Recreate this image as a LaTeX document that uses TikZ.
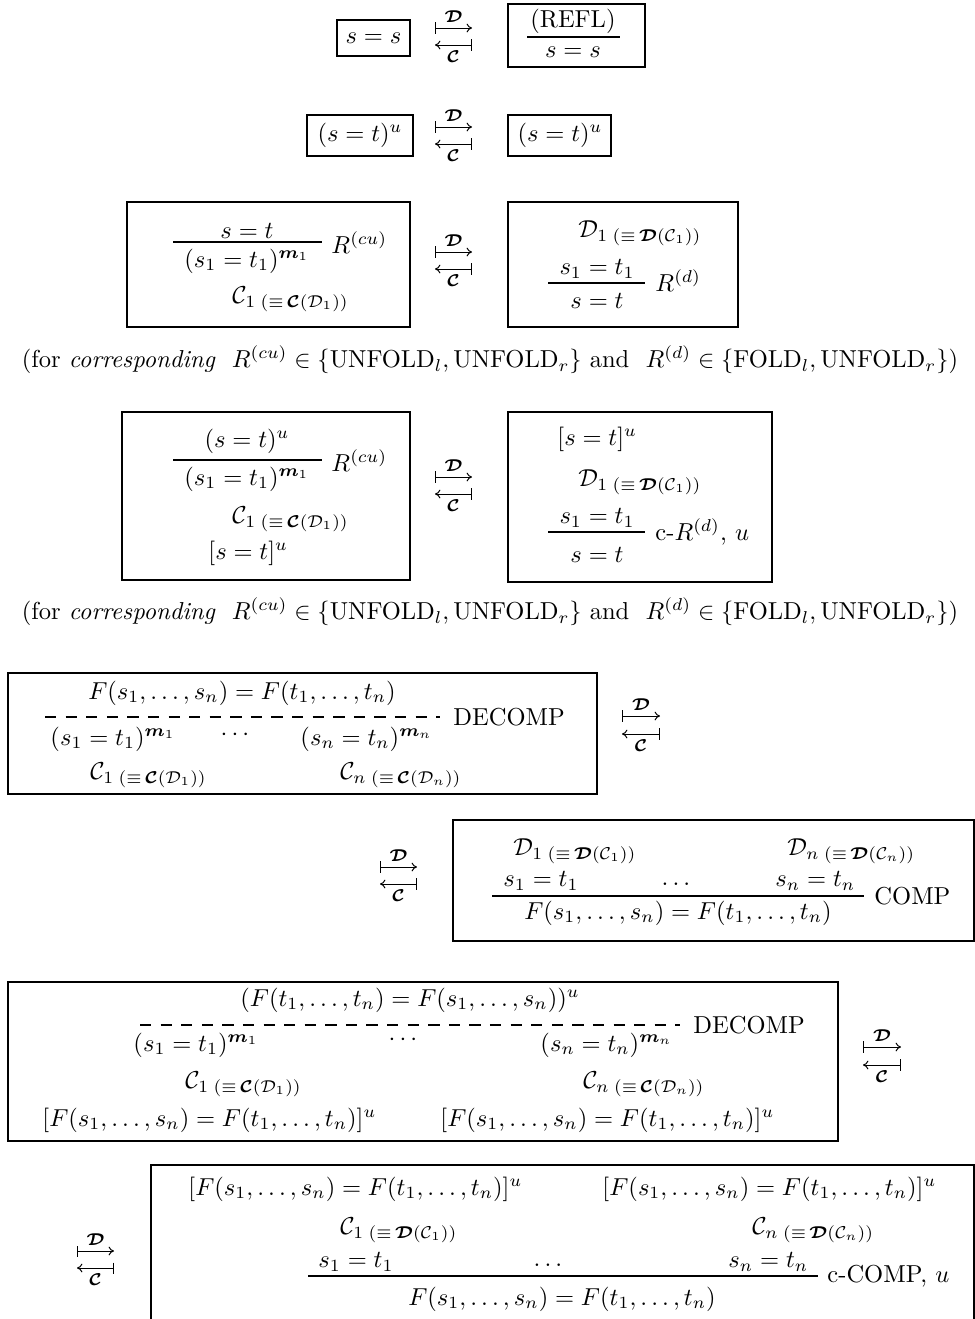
\documentclass[tikz,border=0pt]{standalone}
\usepackage{amsmath,amssymb,bm}
\usetikzlibrary{arrows.meta}
\newcommand{\bD}{\boldsymbol{\mathcal{D}}}
\newcommand{\bC}{\boldsymbol{\mathcal{C}}}
\newcommand{\mybm}{\boldsymbol{m}}
\newcommand{\FsFt}{F(s_1,\ldots,s_n)=F(t_1,\ldots,t_n)}
\begin{document}
\begin{tikzpicture}[x=0.408pt,y=-0.408pt,
 box/.style={draw,line width=0.6pt},
 tx/.style={inner sep=0pt,anchor=center},
 lt/.style={inner sep=0pt,anchor=west},
 rulel/.style={line width=0.45pt},
 dashrule/.style={line width=0.5pt,dash pattern=on 4.6pt off 3.8pt},
 mto/.style={line width=0.4pt,{Bar[width=4.5pt]}-{To[length=2.2pt,width=3.6pt]}},
 mfrom/.style={line width=0.4pt,{To[length=2.2pt,width=3.6pt]}-{Bar[width=4.5pt]}},
 lab/.style={inner sep=0pt,font=\scriptsize}]
\path[use as bounding box] (0,0) rectangle (975,1319);
\clip (0,0) rectangle (975,1319);

% arrow pairs
\foreach \n/\xa/\xb/\ya/\yb in {1/435/472/28/45, 2/435/472/127/144, 3/435/472/252/269,
  4/435/472/477/494, 5/622/660/716/734, 6/380/417/867/884, 7/863/901/1047/1065, 8/77/114/1251/1268}{
  \coordinate (d\n a) at (\xa,\ya);
  \coordinate (d\n b) at (\xb,\ya);
  \coordinate (c\n a) at (\xa,\yb);
  \coordinate (c\n b) at (\xb,\yb);
  \draw[mto] (d\n a) -- (d\n b) node[midway,above=2.2pt,lab] (dl\n) {$\bD$};
  \draw[mfrom] (c\n a) -- (c\n b) node[midway,below=2.2pt,lab] (cl\n) {$\bC$};
}

% row 1
\draw[box] (337,20) rectangle (410,56);
\node[tx] (r1a) at (373.5,38) {$s=s$};
\draw[box] (508,4) rectangle (645,67);
\node[tx] (r1b) at (573,21) {(REFL)};
\coordinate (r1l) at (527,37); \coordinate (r1r) at (620,37);
\draw[rulel] (r1l) -- (r1r);
\node[tx] (r1c) at (573,52) {$s=s$};

% row 2
\draw[box] (307,115) rectangle (413,156);
\node[tx] (r2a) at (360,135) {$(s=t)^u$};
\draw[box] (508,115) rectangle (611,156);
\node[tx] (r2b) at (560,135) {$(s=t)^u$};

% row 3
\draw[box] (127,202) rectangle (410,327);
\node[tx] (r3a) at (247,231) {$s=t$};
\coordinate (r3l) at (173,242); \coordinate (r3r) at (322,242);
\draw[rulel] (r3l) -- (r3r);
\node[tx] (r3b) at (247,261) {$(s_1=t_1)^{\mybm_1}$};
\node[lt] (r3c) at (331,243) {$R^{(cu)}$};
\node[lt] (r3d) at (232,299) {$\mathcal{C}_{1\;(\equiv\,\bC(\mathcal{D}_1))}$};
\draw[box] (508,202) rectangle (738,327);
\node[lt] (r3e) at (578,233) {$\mathcal{D}_{1\;(\equiv\,\bD(\mathcal{C}_1))}$};
\node[tx] (r3f) at (597,269) {$s_1=t_1$};
\coordinate (r3m) at (548,283); \coordinate (r3n) at (645,283);
\draw[rulel] (r3m) -- (r3n);
\node[tx] (r3g) at (597,301) {$s=t$};
\node[lt] (r3h) at (655,281) {$R^{(d)}$};

\node[tx] (cap1) at (490,360) {(for \emph{corresponding}\ \ $R^{(cu)}\in\{\mathrm{UNFOLD}_l,\mathrm{UNFOLD}_r\}$ and\ \ $R^{(d)}\in\{\mathrm{FOLD}_l,\mathrm{UNFOLD}_r\}$)};

% row 4
\draw[box] (122,412) rectangle (410,580);
\node[tx] (r4a) at (247,441) {$(s=t)^u$};
\coordinate (r4l) at (173,460); \coordinate (r4r) at (322,460);
\draw[rulel] (r4l) -- (r4r);
\node[tx] (r4b) at (247,479) {$(s_1=t_1)^{\mybm_1}$};
\node[lt] (r4c) at (331,461) {$R^{(cu)}$};
\node[lt] (r4d) at (232,519) {$\mathcal{C}_{1\;(\equiv\,\bC(\mathcal{D}_1))}$};
\node[lt] (r4e) at (208,553) {$[s=t]^u$};
\draw[box] (508,412) rectangle (772,582);
\node[lt] (r4f) at (557,439) {$[s=t]^u$};
\node[lt] (r4g) at (578,482) {$\mathcal{D}_{1\;(\equiv\,\bD(\mathcal{C}_1))}$};
\node[tx] (r4h) at (597,518) {$s_1=t_1$};
\coordinate (r4m) at (548,532); \coordinate (r4n) at (645,532);
\draw[rulel] (r4m) -- (r4n);
\node[tx] (r4i) at (597,555) {$s=t$};
\node[lt] (r4j) at (655,532) {c-$R^{(d)}$, $u$};

\node[tx] (cap2) at (490,612) {(for \emph{corresponding}\ \ $R^{(cu)}\in\{\mathrm{UNFOLD}_l,\mathrm{UNFOLD}_r\}$ and\ \ $R^{(d)}\in\{\mathrm{FOLD}_l,\mathrm{UNFOLD}_r\}$)};

% row 5
\draw[box] (8,673) rectangle (597,794);
\node[tx] (r5a) at (242,693) {$\FsFt$};
\coordinate (r5l) at (45,717); \coordinate (r5r) at (440,717);
\draw[dashrule] (r5l) -- (r5r);
\node[lt] (r5b) at (453,717) {DECOMP};
\node[lt] (r5c) at (50,739) {$(s_1=t_1)^{\mybm_1}$};
\node[tx] (r5d) at (237,735) {$\cdots$};
\node[lt] (r5e) at (300,739) {$(s_n=t_n)^{\mybm_n}$};
\node[lt] (r5f) at (90,775) {$\mathcal{C}_{1\;(\equiv\,\bC(\mathcal{D}_1))}$};
\node[lt] (r5g) at (340,775) {$\mathcal{C}_{n\;(\equiv\,\bC(\mathcal{D}_n))}$};

% row 6
\draw[box] (453,820) rectangle (974,941);
\node[lt] (r6a) at (513,851) {$\mathcal{D}_{1\;(\equiv\,\bD(\mathcal{C}_1))}$};
\node[lt] (r6b) at (787,851) {$\mathcal{D}_{n\;(\equiv\,\bD(\mathcal{C}_n))}$};
\node[lt] (r6c) at (503,881) {$s_1=t_1$};
\node[tx] (r6d) at (676,884) {$\ldots$};
\node[lt] (r6e) at (775,881) {$s_n=t_n$};
\coordinate (r6l) at (492,896); \coordinate (r6r) at (864,896);
\draw[rulel] (r6l) -- (r6r);
\node[lt] (r6f) at (874,896) {COMP};
\node[tx] (r6g) at (678,913) {$\FsFt$};

% row 7
\draw[box] (8,982) rectangle (838,1141);
\node[tx] (r7a) at (410,1000) {$(F(t_1,\ldots,t_n)=F(s_1,\ldots,s_n))^u$};
\coordinate (r7l) at (140,1025); \coordinate (r7r) at (680,1025);
\draw[dashrule] (r7l) -- (r7r);
\node[lt] (r7b) at (693,1025) {DECOMP};
\node[lt] (r7c) at (133,1045) {$(s_1=t_1)^{\mybm_1}$};
\node[tx] (r7d) at (405,1040) {$\cdots$};
\node[lt] (r7e) at (540,1045) {$(s_n=t_n)^{\mybm_n}$};
\node[lt] (r7f) at (185,1084) {$\mathcal{C}_{1\;(\equiv\,\bC(\mathcal{D}_1))}$};
\node[lt] (r7g) at (583,1084) {$\mathcal{C}_{n\;(\equiv\,\bC(\mathcal{D}_n))}$};
\node[lt] (r7h) at (42,1120) {$[\FsFt]^u$};
\node[lt] (r7i) at (440,1120) {$[\FsFt]^u$};

% row 8
\draw[box] (151,1165) rectangle (974,1340);
\node[lt] (r8a) at (188,1189) {$[\FsFt]^u$};
\node[lt] (r8b) at (602,1189) {$[\FsFt]^u$};
\node[lt] (r8c) at (340,1230) {$\mathcal{C}_{1\;(\equiv\,\bD(\mathcal{C}_1))}$};
\node[lt] (r8d) at (752,1230) {$\mathcal{C}_{n\;(\equiv\,\bD(\mathcal{C}_n))}$};
\node[lt] (r8e) at (318,1262) {$s_1=t_1$};
\node[tx] (r8f) at (548,1265) {$\ldots$};
\node[lt] (r8g) at (728,1262) {$s_n=t_n$};
\coordinate (r8l) at (308,1276); \coordinate (r8r) at (818,1276);
\draw[rulel] (r8l) -- (r8r);
\node[lt] (r8h) at (827,1276) {c-COMP, $u$};
\node[tx] (r8i) at (562,1299) {$\FsFt$};
\end{tikzpicture}
\end{document}
